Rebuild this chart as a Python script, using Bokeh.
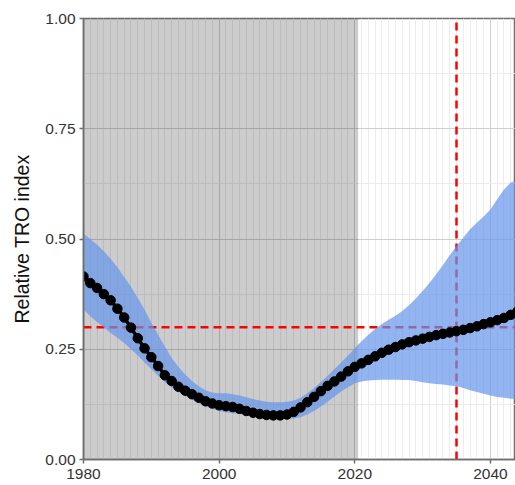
from bokeh.plotting import figure
from bokeh.models import Range1d, SingleIntervalTicker, PrintfTickFormatter
from bokeh.embed import file_html
from bokeh.resources import INLINE

years = list(range(1980, 2045))
mean = [0.415, 0.400, 0.389, 0.375, 0.361, 0.342, 0.322, 0.299, 0.275, 0.252,
        0.232, 0.212, 0.191, 0.178, 0.165, 0.156, 0.148, 0.140, 0.132, 0.127,
        0.123, 0.121, 0.119, 0.115, 0.110, 0.106, 0.103, 0.101, 0.100, 0.100,
        0.102, 0.108, 0.118, 0.130, 0.142, 0.155, 0.167, 0.177, 0.188, 0.200,
        0.210, 0.218, 0.226, 0.234, 0.242, 0.249, 0.255, 0.261, 0.266, 0.270,
        0.274, 0.278, 0.282, 0.285, 0.288, 0.291, 0.294, 0.298, 0.302, 0.307,
        0.311, 0.316, 0.321, 0.328, 0.336]
upper = [0.512, 0.500, 0.487, 0.472, 0.455, 0.436, 0.414, 0.392, 0.366, 0.340,
         0.310, 0.283, 0.256, 0.230, 0.210, 0.193, 0.178, 0.166, 0.157, 0.152,
         0.150, 0.150, 0.148, 0.145, 0.141, 0.137, 0.134, 0.131, 0.130, 0.130,
         0.131, 0.134, 0.140, 0.150, 0.162, 0.176, 0.190, 0.205, 0.220, 0.236,
         0.252, 0.268, 0.283, 0.296, 0.307, 0.317, 0.326, 0.337, 0.350, 0.365,
         0.382, 0.400, 0.420, 0.441, 0.463, 0.484, 0.503, 0.522, 0.537, 0.551,
         0.567, 0.590, 0.612, 0.628, 0.632]
lower = [0.340, 0.325, 0.312, 0.300, 0.287, 0.276, 0.264, 0.250, 0.236, 0.220,
         0.205, 0.190, 0.175, 0.163, 0.153, 0.144, 0.136, 0.128, 0.121, 0.115,
         0.110, 0.107, 0.105, 0.103, 0.100, 0.098, 0.096, 0.094, 0.093, 0.092,
         0.092, 0.093, 0.096, 0.102, 0.110, 0.120, 0.131, 0.143, 0.154, 0.164,
         0.173, 0.177, 0.179, 0.180, 0.181, 0.181, 0.181, 0.180, 0.180, 0.178,
         0.175, 0.173, 0.171, 0.170, 0.168, 0.166, 0.162, 0.157, 0.153, 0.149,
         0.145, 0.142, 0.140, 0.138, 0.137]

x_start, x_end = 1980, 2043.7
y_min, y_max = 0.0, 1.0
obs_start, obs_end = 1980, 2020.5
threshold = 0.3
target_year = 2035
y_label = "Relative TRO index"

p = figure(width=515, height=485, x_range=Range1d(x_start, x_end),
           y_range=Range1d(y_min, y_max), output_backend="svg",
           toolbar_location=None, min_border_left=83, min_border_right=0,
           min_border_top=18, min_border_bottom=26)
p.background_fill_color = "white"
p.border_fill_color = "white"
p.outline_line_color = "#6e6e6e"
p.outline_line_width = 1.5

xt = SingleIntervalTicker(interval=20, num_minor_ticks=20)
yt = SingleIntervalTicker(interval=0.25, num_minor_ticks=2)
p.xaxis.ticker = xt
p.yaxis.ticker = yt
p.xgrid.ticker = xt
p.ygrid.ticker = yt
p.yaxis.formatter = PrintfTickFormatter(format="%.2f")

p.xgrid.grid_line_color = "#cfcfcf"
p.xgrid.minor_grid_line_color = "#ececec"
p.ygrid.grid_line_color = "#cfcfcf"
p.ygrid.minor_grid_line_color = "#ececec"

for ax in (p.xaxis, p.yaxis):
    ax.axis_line_color = "#6e6e6e"
    ax.axis_line_width = 1.5
    ax.major_tick_line_color = "#6e6e6e"
    ax.major_tick_line_width = 1.5
    ax.major_tick_out = 4
    ax.major_tick_in = 0
    ax.minor_tick_line_color = None
    ax.major_label_text_font = "Liberation Sans"
    ax.major_label_text_font_size = "15.5px"
    ax.major_label_text_color = "#333333"
    ax.major_label_standoff = 4
p.xaxis.major_label_standoff = 5
p.yaxis.axis_label = y_label
p.yaxis.axis_label_text_font = "Liberation Sans"
p.yaxis.axis_label_text_font_size = "19.5px"
p.yaxis.axis_label_text_font_style = "normal"
p.yaxis.axis_label_text_color = "#111111"
p.yaxis.axis_label_standoff = 9

# observed period shading
p.quad(left=[obs_start], right=[obs_end], bottom=[y_min], top=[y_max],
       fill_color="black", fill_alpha=0.2, line_color=None)

# reference lines
p.segment(x0=[x_start], y0=[threshold], x1=[x_end], y1=[threshold],
          line_color="red", line_width=2.5, line_dash="8 5")
p.segment(x0=[target_year], y0=[y_min], x1=[target_year], y1=[y_max],
          line_color="red", line_width=2.5, line_dash="8 5")

# uncertainty band
p.varea(x=years, y1=lower, y2=upper, fill_color="cornflowerblue", fill_alpha=0.7)

# mean
p.line(years, mean, line_color="black", line_width=3.5)
p.scatter(years, mean, size=9.5, fill_color="black", line_color="black")

open("out.html", "w").write(file_html(p, INLINE))
